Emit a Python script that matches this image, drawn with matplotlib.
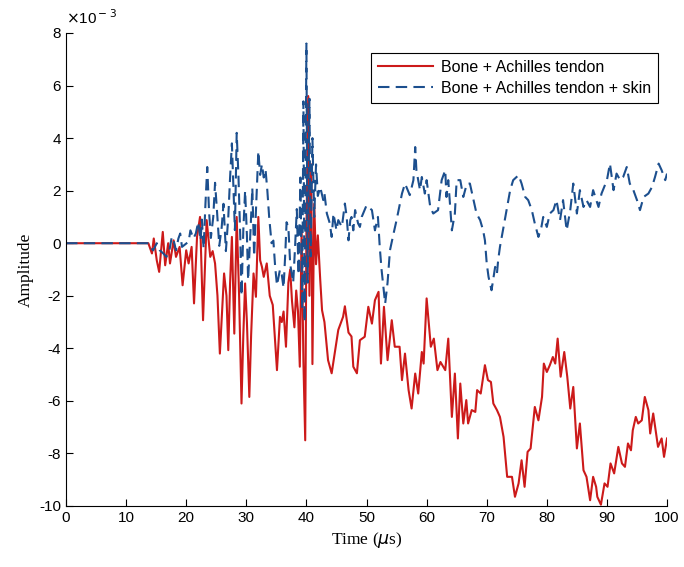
import numpy as np
import matplotlib
matplotlib.use("Agg")
import matplotlib.pyplot as plt

# time in microseconds, amplitude in units of 1e-3
t_bone = [0, 13.7, 14.3, 14.6, 15.1, 15.5, 16.1, 16.5, 17.0, 17.3, 17.9, 18.3, 18.9, 19.4,
          20.0, 20.4, 20.9, 21.3, 21.8, 22.3, 22.8, 23.4, 24.0, 24.4, 24.8, 25.2, 25.6,
          26.0, 26.3, 26.7, 27.0, 27.3, 27.6, 28.0, 28.4, 28.8, 29.2, 29.5, 29.8, 30.1,
          30.5, 30.8, 31.2, 31.6, 32.0, 32.3, 32.6, 32.9, 33.4, 33.9, 34.4, 35.1, 35.6,
          35.9, 36.2, 36.6, 37.0, 37.3, 37.6, 38.0, 38.3, 38.6, 38.9, 39.2, 39.5, 39.8,
          40.0, 40.3, 40.5, 40.8, 41.0, 41.3, 41.6, 41.9, 42.3, 42.6, 43.0, 43.6, 44.2,
          44.7, 45.3, 46.1, 46.4, 47.0, 47.5, 47.8, 48.4, 48.9, 49.7, 50.3, 50.9, 51.4,
          52.0, 52.4, 52.9, 53.5, 54.2, 54.7, 55.5, 55.9, 56.4, 57.0, 57.5, 58.1, 58.6,
          59.2, 59.5, 60.0, 60.7, 61.2, 61.8, 62.3, 63.1, 63.6, 64.2, 64.7, 65.2, 65.6,
          66.1, 66.6, 66.9, 67.5, 68.1, 68.4, 69.0, 69.7, 70.2, 70.7, 71.1, 71.7, 72.2,
          72.8, 73.4, 74.2, 74.7, 75.3, 75.8, 76.3, 76.8, 77.3, 78.0, 78.6, 79.2, 79.5,
          80.0, 80.5, 81.0, 81.4, 81.8, 82.3, 82.9, 83.4, 83.9, 84.4, 85.0, 85.5, 86.1,
          86.6, 87.2, 87.7, 88.2, 88.4, 89.0, 89.6, 90.1, 90.6, 91.2, 91.9, 92.5, 93.0,
          93.5, 94.0, 94.3, 94.8, 95.2, 95.8, 96.3, 96.9, 97.2, 97.7, 98.5, 99.1, 99.5, 100]
a_bone = [0, 0, -0.39, 0.18, -0.65, -1.09, 0.43, -0.84, 0.0, -0.77, 0.11, -0.52, -0.14, -1.60,
          -0.27, -0.77, -0.14, -2.29, 0.24, 1.0, -2.93, 0.88, -0.52, -0.3, -0.77, -2.0, -4.20,
          -2.5, -1.15, -2.0, -4.07, -1.5, 0.24, -3.44, 1.0, -2.0, -6.10, -3.5, -1.53, -3.0,
          -5.85, -3.5, -1.15, -2.04, 1.0, -0.65, -0.9, -1.28, -0.77, -2.0, -2.35, -4.83, -2.8,
          -3.0, -2.6, -3.94, -1.5, -1.0, -2.2, -3.2, -1.8, -2.6, -4.7, 0.5, -4.5, -7.5,
          0.5, 5.6, -2.0, 3.0, -4.6, 1.5, -0.8, 0.3, -1.4, -2.55, -3.0, -4.45, -4.95,
          -4.2, -3.3, -2.8, -2.4, -3.4, -3.55, -4.7, -4.95, -3.69, -3.56, -2.42, -3.06, -2.17,
          -1.85, -4.58, -2.42, -4.45, -2.93, -3.94, -3.94, -5.21, -4.20, -5.59, -6.29, -4.96, -5.72,
          -4.14, -4.58, -2.10, -3.94, -3.63, -4.83, -4.52, -4.83, -3.63, -6.61, -4.96, -7.43, -5.34,
          -6.86, -5.97, -6.86, -6.35, -6.42, -5.59, -5.72, -4.64, -5.21, -5.28, -6.10, -6.35, -6.61,
          -7.37, -8.89, -8.89, -9.65, -9.14, -8.26, -9.27, -7.94, -7.81, -6.23, -6.74, -5.85, -4.58,
          -4.90, -4.64, -4.33, -4.58, -3.63, -5.08, -4.14, -5.08, -6.29, -5.47, -7.81, -6.86, -8.64,
          -8.89, -9.78, -8.89, -9.27, -9.65, -9.95, -9.14, -9.27, -8.38, -8.76, -7.75, -8.38, -8.51,
          -7.62, -7.88, -7.12, -6.61, -6.86, -6.74, -5.85, -6.35, -7.24, -6.48, -7.75, -7.43, -8.13, -7.43]

t_skin = [0, 13.7, 14.0, 14.5, 15.1, 15.6, 16.2, 16.7, 17.2, 17.6, 17.9, 18.3, 18.7, 19.0,
          19.3, 19.8, 20.4, 20.7, 21.2, 21.6, 22.0, 22.4, 22.6, 22.9, 23.2, 23.5, 23.8,
          24.1, 24.5, 24.8, 25.1, 25.5, 25.9, 26.2, 26.6, 27.0, 27.3, 27.6, 27.9, 28.1,
          28.4, 28.7, 29.0, 29.2, 29.5, 29.8, 30.1, 30.3, 30.7, 31.0, 31.3, 31.6, 32.0,
          32.3, 32.6, 32.9, 33.2, 33.5, 33.8, 34.2, 34.5, 34.8, 35.1, 35.6, 35.9, 36.2,
          36.5, 36.7, 37.0, 37.3, 37.8, 38.1, 38.4, 38.7, 39.0, 39.3, 39.5, 39.7, 40.0,
          40.2, 40.5, 40.7, 41.0, 41.3, 41.6, 41.9, 42.3, 42.8, 43.0, 43.4, 43.9, 44.2,
          44.5, 45.0, 45.3, 45.9, 46.4, 46.7, 47.0, 47.3, 47.5, 47.8, 48.1, 48.6, 48.9,
          49.2, 50.0, 50.9, 51.4, 51.9, 52.2, 52.5, 52.8, 53.1, 53.5, 53.9, 54.5, 55.0,
          55.9, 56.4, 57.2, 57.8, 58.1, 58.3, 58.9, 59.2, 59.7, 60.0, 60.6, 61.1, 61.9,
          62.5, 63.1, 63.3, 63.6, 64.2, 64.7, 65.0, 65.6, 66.1, 66.7, 67.2, 67.8, 68.3,
          68.9, 69.4, 69.7, 70.0, 70.3, 70.8, 71.4, 71.7, 71.9, 72.2, 72.8, 73.3, 73.9,
          74.4, 75.3, 75.8, 76.4, 76.9, 77.5, 78.0, 78.6, 79.1, 79.4, 80.0, 80.5, 81.1,
          81.6, 82.2, 82.7, 83.3, 83.9, 84.4, 85.0, 85.5, 86.1, 86.6, 87.2, 87.7, 88.6,
          89.1, 90.0, 90.5, 91.1, 91.6, 92.2, 92.7, 93.3, 93.8, 94.4, 95.0, 95.5, 96.1,
          96.9, 97.5, 98.0, 98.6, 99.1, 99.7, 100]
a_skin = [0, 0, -0.14, -0.27, 0.0, -0.27, -0.39, -0.52, -0.27, 0.24, 0.11, -0.27, 0.18, 0.37,
          -0.14, -0.05, 0.06, 0.49, 0.18, 0.37, 0.81, 0.11, 0.9, -0.2, 1.5, 2.9, 1.2,
          0.2, 1.0, 2.3, 1.3, -0.1, 0.6, 1.5, -0.3, 1.0, 2.5, 3.8, 1.8, 0.5,
          4.2, 2.5, 0.2, -2.0, 0.5, 2.0, 0.3, -1.4, 0.5, 2.1, -0.5, 1.2, 3.5,
          2.6, 3.0, 2.5, 2.8, 2.0, 1.0, 0.0, 0.1, -0.9, -1.6, -1.0, -1.2, -1.7,
          -0.3, 0.8, 0.6, -0.8, -1.5, -0.2, 1.3, -1.2, 2.5, -2.5, 5.4, -3.0, 7.6,
          -1.5, 5.5, -0.5, 4.0, 1.0, 3.0, 1.8, 2.14, 1.64, 1.89, 1.13, 0.75, 0.24,
          1.13, 0.49, 0.88, 0.62, 1.51, 1.0, 0.11, 0.88, 1.0, 0.49, 1.26, 0.75, 0.62,
          1.0, 1.44, 1.26, 0.49, 1.0, -0.14, -1.0, -1.66, -2.3, -1.5, -0.27, 0.37, 0.88,
          1.89, 2.27, 1.83, 2.40, 3.66, 2.78, 2.02, 2.52, 1.89, 2.40, 1.38, 1.13, 1.26,
          2.40, 2.78, 1.76, 2.40, 0.49, 1.13, 2.40, 2.40, 1.76, 2.27, 2.27, 1.64, 1.13,
          0.88, 0.49, 0.11, -0.77, -1.28, -1.79, -0.90, -1.15, -0.65, -0.14, 0.62, 1.26, 2.02,
          2.40, 2.59, 2.27, 1.76, 1.64, 1.26, 0.75, 0.24, 0.62, 1.0, 0.62, 1.13, 1.26,
          1.64, 0.88, 1.64, 0.49, 1.26, 2.27, 1.13, 2.02, 1.38, 1.64, 1.38, 2.02, 1.38,
          1.89, 2.40, 3.03, 2.02, 2.65, 2.40, 2.52, 2.90, 2.27, 2.02, 1.64, 1.26, 1.76,
          1.89, 2.14, 2.52, 3.03, 2.78, 2.40, 2.65]

plt.rcParams['axes.unicode_minus'] = False
sans = 'Liberation Sans'
serif = 'Liberation Serif'

fig = plt.figure(figsize=(6.84, 5.67), dpi=100)
ax = fig.add_axes([0.0965, 0.1076, 0.8787, 0.8342])

ax.plot(t_bone, a_bone, color='#cc1a1a', lw=1.5, label='Bone + Achilles tendon')
ax.plot(t_skin, a_skin, color='#1c4f8e', lw=1.5, dashes=(5.5, 3),
        label='Bone + Achilles tendon + skin')

ax.set_xlim(0, 100)
ax.set_ylim(-10, 8)
ax.set_xticks(np.arange(0, 101, 10))
ax.set_yticks(np.arange(-10, 9, 2))
ax.spines['top'].set_visible(False)
ax.spines['right'].set_visible(False)
ax.tick_params(direction='in', length=5, width=0.8, labelsize=11)
for lbl in ax.get_xticklabels() + ax.get_yticklabels():
    lbl.set_fontfamily(sans)

ax.set_xlabel(r'Time ($\mu$s)', fontfamily=serif, fontsize=12.5)
ax.set_ylabel('Amplitude', fontfamily=serif, fontsize=12.5)
ax.text(0.0, 1.012, r'$\times$10$^{\rm -3}$', transform=ax.transAxes,
        fontfamily=sans, fontsize=11, va='bottom', ha='left')

# legend frame spans roughly x 350-666, y 47-104 px
leg = ax.legend(loc='upper right', bbox_to_anchor=(0.998, 0.975), fancybox=False,
                edgecolor='black', framealpha=1, prop={'family': sans, 'size': 11.5},
                handlelength=3.4, handletextpad=0.5, borderpad=0.45, labelspacing=0.35)
leg.get_frame().set_linewidth(0.8)

fig.savefig('out.png', dpi=100)
